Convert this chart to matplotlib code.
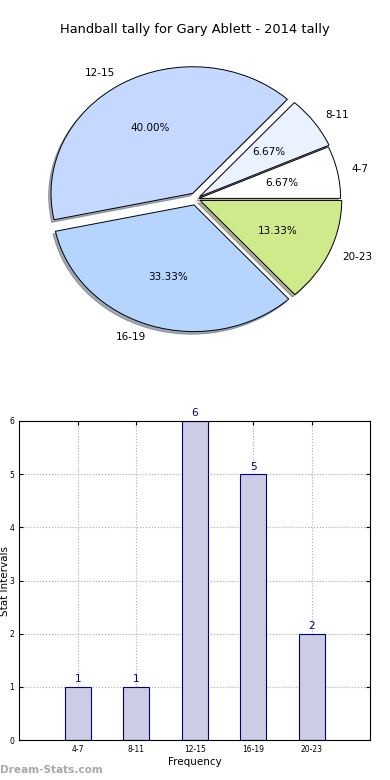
import matplotlib
matplotlib.use("Agg")
import matplotlib.pyplot as plt

# data
intervals = ["4-7", "8-11", "12-15", "16-19", "20-23"]
counts = [1, 1, 6, 5, 2]
explode = [0.02, 0.03, 0.05, 0.05, 0.03]
pie_colors = ["#ffffff", "#eaf1ff", "#c5d8ff", "#b5d5ff", "#cfea8a"]

fig = plt.figure(figsize=(3.9, 7.8), dpi=100)

# pie on top
ax1 = fig.add_axes([0.049, 0.542, 0.908, 0.406])
wedges, texts, autotexts = ax1.pie(counts, labels=intervals, colors=pie_colors,
                                   explode=explode, autopct="%1.2f%%",
                                   startangle=0,
                                   shadow=dict(ox=-0.012, oy=-0.015, shade=0.6),
                                   wedgeprops=dict(edgecolor="black", linewidth=0.7),
                                   textprops=dict(fontsize=7.5))
ax1.set_aspect("auto")
ax1.set_xlim(-1.25, 1.25)
ax1.set_ylim(-1.25, 1.25)
ax1.axis("off")
fig.text(0.5, 1 - 30 / 780, "Handball tally for Gary Ablett - 2014 tally",
         ha="center", va="center", fontsize=9.4)

# bar chart below
ax2 = fig.add_axes([19.3 / 390, 1 - 740 / 780, 351 / 390, 319 / 780])
x = list(range(len(intervals)))
ax2.bar(x, counts, width=0.45, color="#ccccE5", edgecolor="#000080", linewidth=0.8,
        zorder=2)
for xi, c in zip(x, counts):
    ax2.text(xi, c + 0.05, str(c), ha="center", va="bottom", color="#000080",
             fontsize=7.5)
ax2.set_xlim(-1, 5)
ax2.set_ylim(0, 6)
ax2.set_xticks(x)
ax2.set_xticklabels(intervals)
ax2.set_yticks(range(7))
ax2.tick_params(labelsize=5.5, direction="in", top=True, right=True, length=3)
ax2.grid(True, linestyle=":", color="#aaaaaa", linewidth=0.8, zorder=0)
ax2.set_xlabel("Frequency", fontsize=7.5, labelpad=2)
ax2.set_ylabel("Stat Intervals", fontsize=7.5)
ax2.yaxis.set_label_coords(-9.0 / 351, 0.5)

fig.text(0.0, 1 - 770 / 780, "Dream-Stats.com", ha="left", va="center",
         fontsize=7.6, fontweight="bold", color="#a8a8a8")

fig.savefig("out.png", dpi=100)
